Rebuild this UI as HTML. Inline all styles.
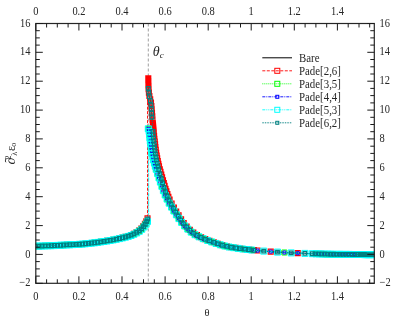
<!DOCTYPE html>
<html><head><meta charset="utf-8"><title>plot</title>
<style>html,body{margin:0;padding:0;background:#fff;overflow:hidden}body{width:415px;height:327px;position:relative;font-family:"Liberation Serif",serif}svg text,svg tspan{font-family:"Liberation Serif",serif}</style></head>
<body>
<svg width="415" height="327" viewBox="0 0 415 327" style="position:absolute;left:0;top:0;will-change:transform;opacity:0.999" font-size="12" fill="#262626">
<rect width="415" height="327" fill="#fff"/>
<line x1="148.3" y1="23.5" x2="148.3" y2="283.3" stroke="#888" stroke-width="0.8" stroke-dasharray="3,2"/>
<clipPath id="c"><rect x="35.8" y="23.454000000000008" width="339.1" height="259.848"/></clipPath>
<g clip-path="url(#c)" fill="none">
<path d="M35.8 246.1 L36.9 246.1 L38.1 246.1 L39.2 246.1 L40.3 246.0 L41.4 246.0 L42.6 246.0 L43.7 245.9 L44.8 245.9 L46.0 245.9 L47.1 245.8 L48.2 245.8 L49.3 245.7 L50.5 245.7 L51.6 245.7 L52.7 245.6 L53.8 245.6 L55.0 245.5 L56.1 245.4 L57.2 245.4 L58.4 245.3 L59.5 245.3 L60.6 245.2 L61.7 245.1 L62.9 245.1 L64.0 245.0 L65.1 245.0 L66.3 244.9 L67.4 244.9 L68.5 244.8 L69.6 244.8 L70.8 244.7 L71.9 244.6 L73.0 244.6 L74.1 244.5 L75.3 244.5 L76.4 244.4 L77.5 244.3 L78.7 244.2 L79.8 244.2 L80.9 244.1 L82.0 244.0 L83.2 243.9 L84.3 243.8 L85.4 243.7 L86.6 243.6 L87.7 243.5 L88.8 243.4 L89.9 243.2 L91.1 243.1 L92.2 243.0 L93.3 242.8 L94.5 242.7 L95.6 242.5 L96.7 242.4 L97.8 242.2 L99.0 242.1 L100.1 241.9 L101.2 241.8 L102.3 241.6 L103.5 241.4 L104.6 241.3 L105.7 241.1 L106.9 240.9 L108.0 240.7 L109.1 240.5 L110.2 240.3 L111.4 240.1 L112.2 240.0 L113.1 239.8 L113.9 239.6 L114.8 239.5 L115.6 239.3 L116.4 239.1 L117.3 239.0 L118.1 238.8 L119.0 238.6 L119.8 238.4 L120.7 238.2 L121.5 238.0 L122.4 237.8 L123.2 237.6 L124.1 237.4 L124.9 237.1 L125.7 236.9 L126.6 236.7 L127.4 236.4 L128.3 236.1 L129.1 235.8 L130.0 235.6 L130.8 235.2 L131.7 234.9 L132.5 234.6 L133.4 234.2 L134.2 233.8 L135.1 233.3 L135.9 232.9 L136.7 232.4 L137.6 231.9 L138.4 231.3 L139.3 230.7 L140.1 230.0 L140.7 229.6 L141.3 229.0 L141.8 228.5 L142.4 227.9 L143.0 227.3 L143.5 226.6 L144.1 225.8 L144.6 225.0 L145.2 224.2 L145.8 223.2 L146.3 222.2 L146.9 220.9 L147.5 219.5 L147.7 218.8 L148.0 218.0 L148.3 217.2 M148.3 78.3 L148.3 79.3 L148.3 80.4 L148.4 81.5 L148.4 82.6 L148.4 83.7 L148.4 84.8 L148.4 85.9 L148.5 86.9 L148.5 87.9 L148.6 88.8 L148.6 89.8 L148.7 90.7 L148.8 91.7 L148.9 92.6 L149.0 93.5 L149.1 94.4 L149.2 95.3 L149.3 96.2 L149.5 97.0 L149.7 97.8 L149.9 98.6 L150.1 99.4 L150.3 100.2 L150.5 101.1 L150.6 101.9 L150.8 102.8 L150.9 103.7 L151.0 104.6 L151.1 105.6 L151.2 106.5 L151.2 107.5 L151.3 108.4 L151.4 109.4 L151.5 110.4 L151.5 111.3 L151.6 112.3 L151.7 113.3 L151.7 114.2 L151.8 115.2 L151.8 116.1 L151.9 117.1 L152.0 118.0 L152.0 119.0 L152.1 119.9 L152.2 120.9 L152.2 121.8 L152.3 122.8 L152.4 123.8 L152.4 124.7 L152.5 125.6 L152.6 126.6 L152.7 127.5 L152.8 128.4 L152.9 129.4 L152.9 130.3 L153.0 131.3 L153.1 132.2 L153.2 133.1 L153.3 134.1 L153.4 135.0 L153.4 135.9 L153.5 136.9 L153.6 137.8 L153.7 138.7 L153.8 139.7 L153.9 140.6 L154.0 141.5 L154.1 142.5 L154.2 143.4 L154.3 144.3 L154.4 145.2 L154.5 146.2 L154.6 147.1 L154.7 148.0 L154.8 148.9 L154.9 149.8 L155.0 150.7 L155.1 151.6 L155.2 152.5 L155.4 153.3 L155.5 154.2 L155.6 155.1 L155.8 156.0 L155.9 156.8 L156.1 157.7 L156.3 158.5 L156.4 159.4 L156.6 160.2 L156.8 161.1 L156.9 161.9 L157.1 162.7 L157.3 163.6 L157.5 164.4 L157.7 165.2 L157.9 166.0 L158.1 166.8 L158.3 167.6 L158.5 168.4 L158.7 169.2 L158.9 170.0 L159.1 170.8 L159.4 171.6 L159.6 172.3 L159.8 173.1 L160.0 173.9 L160.3 174.7 L160.5 175.4 L160.7 176.2 L160.9 177.0 L161.2 177.8 L161.4 178.6 L161.6 179.5 L161.9 180.3 L162.1 181.1 L162.4 182.0 L162.6 182.8 L162.9 183.6 L163.1 184.4 L163.4 185.2 L163.6 186.0 L163.9 186.8 L164.1 187.5 L164.3 188.3 L164.7 189.3 L165.0 190.3 L165.3 191.2 L165.7 192.1 L166.0 193.0 L166.3 193.9 L166.6 194.8 L167.0 195.6 L167.3 196.4 L167.6 197.2 L168.0 197.9 L168.3 198.6 L168.6 199.3 L168.9 200.0 L169.3 200.7 L169.7 201.5 L170.1 202.4 L170.5 203.1 L170.9 203.9 L171.3 204.7 L171.7 205.4 L172.1 206.1 L172.5 206.8 L173.0 207.5 L173.4 208.2 L173.8 208.9 L174.2 209.6 L174.6 210.3 L175.0 210.9 L175.4 211.6 L175.8 212.2 L176.2 212.9 L176.6 213.6 L177.1 214.2 L177.5 214.9 L177.9 215.5 L178.3 216.1 L178.7 216.8 L179.1 217.4 L179.5 218.0 L179.9 218.7 L180.3 219.3 L180.7 219.9 L181.1 220.5 L181.6 221.2 L182.1 221.8 L182.6 222.5 L183.1 223.1 L183.6 223.8 L184.1 224.4 L184.6 225.0 L185.1 225.5 L185.6 226.1 L186.1 226.6 L186.6 227.1 L187.1 227.7 L187.7 228.3 L188.3 228.8 L188.9 229.4 L189.4 229.9 L190.0 230.4 L190.6 230.9 L191.1 231.4 L191.7 231.9 L192.3 232.3 L192.9 232.8 L193.5 233.3 L194.2 233.7 L194.8 234.1 L195.5 234.5 L196.1 234.9 L196.8 235.3 L197.5 235.7 L198.1 236.0 L198.9 236.4 L199.6 236.8 L200.3 237.1 L201.1 237.5 L201.8 237.8 L202.5 238.1 L203.3 238.5 L204.0 238.8 L204.8 239.1 L205.5 239.4 L206.2 239.7 L207.0 240.0 L207.7 240.2 L208.4 240.5 L209.2 240.8 L209.9 241.0 L210.7 241.3 L211.5 241.6 L212.3 241.9 L213.1 242.2 L213.9 242.5 L214.7 242.7 L215.6 243.0 L216.4 243.3 L217.2 243.6 L218.0 243.9 L218.8 244.1 L219.7 244.4 L220.5 244.6 L221.3 244.9 L222.1 245.1 L222.9 245.4 L223.8 245.6 L224.6 245.8 L225.4 246.0 L226.2 246.2 L227.0 246.4 L227.9 246.6 L228.8 246.8 L229.7 247.0 L230.6 247.1 L231.6 247.3 L232.5 247.4 L233.4 247.6 L234.3 247.7 L235.2 247.9 L236.1 248.0 L237.0 248.1 L237.9 248.3 L238.8 248.4 L239.7 248.5 L240.6 248.6 L241.5 248.7 L242.4 248.8 L243.3 249.0 L244.2 249.1 L245.1 249.2 L246.0 249.3 L246.9 249.4 L247.8 249.5 L248.7 249.6 L249.6 249.7 L250.5 249.8 L251.4 249.9 L252.3 250.0 L253.3 250.1 L254.3 250.2 L255.2 250.3 L256.2 250.4 L257.2 250.5 L258.2 250.6 L259.2 250.7 L260.2 250.8 L261.1 250.9 L262.1 250.9 L263.1 251.0 L264.1 251.1 L265.1 251.2 L266.1 251.2 L267.0 251.3 L268.0 251.4 L269.0 251.5 L270.0 251.5 L271.0 251.6 L272.0 251.7 L272.9 251.8 L273.9 251.8 L274.9 251.9 L275.9 252.0 L276.9 252.0 L277.9 252.1 L278.8 252.2 L279.8 252.2 L280.8 252.3 L281.8 252.3 L282.8 252.4 L283.8 252.5 L284.7 252.5 L285.7 252.6 L286.7 252.6 L287.7 252.7 L288.7 252.7 L289.7 252.8 L290.6 252.8 L291.6 252.9 L292.6 252.9 L293.6 253.0 L294.6 253.0 L295.6 253.0 L296.5 253.1 L297.5 253.1 L298.5 253.2 L299.5 253.2 L300.5 253.2 L301.5 253.3 L302.4 253.3 L303.4 253.4 L304.4 253.4 L305.4 253.4 L306.4 253.5 L307.4 253.5 L308.3 253.5 L309.3 253.6 L310.3 253.6 L311.3 253.6 L312.3 253.7 L313.3 253.7 L314.2 253.7 L315.2 253.8 L316.2 253.8 L317.2 253.8 L318.2 253.9 L319.2 253.9 L320.1 253.9 L321.1 254.0 L322.1 254.0 L323.1 254.0 L324.1 254.0 L325.1 254.1 L326.0 254.1 L327.0 254.1 L328.0 254.1 L329.0 254.1 L330.0 254.2 L331.0 254.2 L331.9 254.2 L332.9 254.2 L334.0 254.2 L335.1 254.3 L336.1 254.3 L337.2 254.3 L338.3 254.3 L339.3 254.3 L340.4 254.3 L341.4 254.3 L342.5 254.3 L343.6 254.4 L344.6 254.4 L345.7 254.4 L346.8 254.4 L347.8 254.4 L348.9 254.4 L350.0 254.4 L351.0 254.4 L352.1 254.5 L353.2 254.5 L354.2 254.5 L355.3 254.5 L356.4 254.5 L357.4 254.5 L358.5 254.5 L359.6 254.5 L360.6 254.5 L361.7 254.5 L362.8 254.5 L363.8 254.5 L364.9 254.5 L366.0 254.6 L367.0 254.6 L368.1 254.6 L369.1 254.6 L370.2 254.6 L371.3 254.6 L372.3 254.6 L373.4 254.6 L374.2 254.6" stroke="#000" stroke-width="1"/>
<path d="M35.8 246.1 L36.9 246.1 L38.1 246.1 L39.2 246.0 L40.3 246.0 L41.4 246.0 L42.6 246.0 L43.7 245.9 L44.8 245.9 L46.0 245.8 L47.1 245.8 L48.2 245.8 L49.3 245.7 L50.5 245.7 L51.6 245.6 L52.7 245.6 L53.8 245.5 L55.0 245.5 L56.1 245.4 L57.2 245.4 L58.4 245.3 L59.5 245.2 L60.6 245.2 L61.7 245.1 L62.9 245.1 L64.0 245.0 L65.1 245.0 L66.3 244.9 L67.4 244.8 L68.5 244.8 L69.6 244.7 L70.8 244.7 L71.9 244.6 L73.0 244.6 L74.1 244.5 L75.3 244.4 L76.4 244.4 L77.5 244.3 L78.7 244.2 L79.8 244.1 L80.9 244.1 L82.0 244.0 L83.2 243.9 L84.3 243.8 L85.4 243.7 L86.6 243.6 L87.7 243.4 L88.8 243.3 L89.9 243.2 L91.1 243.1 L92.2 242.9 L93.3 242.8 L94.5 242.6 L95.6 242.5 L96.7 242.3 L97.8 242.2 L99.0 242.0 L100.1 241.9 L101.2 241.7 L102.3 241.5 L103.5 241.4 L104.6 241.2 L105.7 241.0 L106.9 240.8 L108.0 240.6 L109.1 240.5 L110.2 240.3 L111.4 240.0 L112.2 239.9 L113.1 239.7 L113.9 239.6 L114.8 239.4 L115.6 239.2 L116.4 239.0 L117.3 238.9 L118.1 238.7 L119.0 238.5 L119.8 238.3 L120.7 238.1 L121.5 237.9 L122.4 237.7 L123.2 237.5 L124.1 237.2 L124.9 237.0 L125.7 236.8 L126.6 236.5 L127.4 236.3 L128.3 236.0 L129.1 235.7 L130.0 235.4 L130.8 235.1 L131.7 234.7 L132.5 234.4 L133.4 234.0 L134.2 233.6 L135.1 233.1 L135.9 232.6 L136.7 232.1 L137.6 231.6 L138.4 231.0 L139.3 230.3 L139.8 229.9 L140.4 229.4 L141.0 228.9 L141.5 228.3 L142.1 227.7 L142.7 227.1 L143.2 226.4 L143.8 225.6 L144.4 224.8 L144.9 223.9 L145.5 223.0 L146.1 221.9 L146.6 220.6 L147.2 219.1 L147.5 218.4 L147.7 217.6 L148.0 216.7 L147.5 215.8 L147.5 78.3 L148.3 79.5 L148.4 80.5 L148.4 81.6 L148.4 82.6 L148.4 83.7 L148.4 84.7 L148.5 85.8 L148.5 86.9 L148.5 87.9 L148.6 88.9 L148.6 89.8 L148.7 90.8 L148.8 91.7 L148.9 92.6 L149.0 93.5 L149.1 94.4 L149.3 95.3 L149.4 96.1 L149.6 97.0 L149.8 97.8 L150.0 98.5 L150.3 99.3 L150.5 100.1 L150.7 100.9 L150.9 101.8 L151.0 102.6 L151.1 103.5 L151.3 104.4 L151.4 105.3 L151.5 106.2 L151.6 107.1 L151.6 108.1 L151.7 109.0 L151.8 109.9 L151.9 110.9 L151.9 111.8 L152.0 112.8 L152.1 113.7 L152.2 114.7 L152.2 115.6 L152.3 116.5 L152.4 117.5 L152.5 118.4 L152.5 119.4 L152.6 120.3 L152.7 121.3 L152.8 122.2 L152.8 123.2 L152.9 124.1 L153.0 125.0 L153.1 125.9 L153.2 126.9 L153.3 127.8 L153.4 128.7 L153.5 129.6 L153.6 130.5 L153.7 131.5 L153.8 132.4 L153.9 133.3 L154.0 134.2 L154.1 135.1 L154.2 136.1 L154.3 137.0 L154.3 137.9 L154.4 138.8 L154.6 139.7 L154.7 140.6 L154.8 141.5 L154.9 142.5 L155.0 143.4 L155.1 144.3 L155.2 145.2 L155.3 146.1 L155.4 147.0 L155.5 147.9 L155.6 148.8 L155.7 149.7 L155.9 150.6 L156.0 151.4 L156.1 152.3 L156.3 153.2 L156.4 154.1 L156.6 154.9 L156.7 155.8 L156.9 156.6 L157.0 157.5 L157.2 158.3 L157.4 159.1 L157.5 160.0 L157.7 160.8 L157.9 161.6 L158.1 162.5 L158.3 163.3 L158.5 164.1 L158.7 164.9 L158.9 165.7 L159.1 166.5 L159.3 167.3 L159.5 168.1 L159.7 168.9 L159.9 169.7 L160.1 170.5 L160.4 171.3 L160.6 172.1 L160.8 172.8 L161.0 173.6 L161.3 174.6 L161.6 175.4 L161.8 176.3 L162.1 177.1 L162.3 178.0 L162.5 178.9 L162.8 179.7 L163.0 180.6 L163.3 181.4 L163.5 182.3 L163.8 183.1 L164.0 183.9 L164.3 184.7 L164.5 185.6 L164.8 186.4 L165.0 187.1 L165.3 187.9 L165.5 188.7 L165.7 189.4 L166.1 190.4 L166.4 191.4 L166.7 192.3 L167.1 193.2 L167.4 194.1 L167.7 195.0 L168.0 195.8 L168.4 196.6 L168.7 197.4 L169.0 198.2 L169.3 198.9 L169.7 199.6 L170.0 200.3 L170.3 201.0 L170.7 201.7 L171.1 202.5 L171.5 203.3 L171.9 204.1 L172.3 204.9 L172.7 205.6 L173.1 206.3 L173.5 207.1 L173.9 207.8 L174.3 208.5 L174.8 209.2 L175.2 209.8 L175.6 210.5 L176.0 211.2 L176.4 211.9 L176.8 212.5 L177.2 213.2 L177.6 213.9 L178.0 214.5 L178.4 215.2 L178.9 215.8 L179.3 216.5 L179.7 217.1 L180.1 217.8 L180.5 218.4 L180.9 219.0 L181.3 219.6 L181.7 220.2 L182.1 220.8 L182.6 221.5 L183.1 222.2 L183.6 222.9 L184.1 223.5 L184.6 224.1 L185.1 224.7 L185.6 225.3 L186.1 225.9 L186.6 226.4 L187.0 226.9 L187.5 227.4 L188.1 228.0 L188.7 228.6 L189.3 229.1 L189.8 229.7 L190.4 230.2 L191.0 230.7 L191.6 231.2 L192.1 231.7 L192.7 232.2 L193.3 232.6 L193.9 233.1 L194.5 233.5 L195.2 234.0 L195.8 234.4 L196.5 234.8 L197.1 235.2 L197.8 235.5 L198.4 235.9 L199.1 236.2 L199.8 236.6 L200.6 237.0 L201.3 237.3 L202.0 237.7 L202.8 238.0 L203.5 238.3 L204.3 238.7 L205.0 239.0 L205.7 239.3 L206.5 239.6 L207.2 239.8 L207.9 240.1 L208.7 240.4 L209.4 240.7 L210.2 240.9 L210.9 241.2 L211.6 241.5 L212.5 241.8 L213.3 242.1 L214.1 242.3 L214.9 242.6 L215.7 242.9 L216.6 243.2 L217.4 243.5 L218.2 243.7 L219.0 244.0 L219.8 244.3 L220.7 244.5 L221.5 244.8 L222.3 245.0 L223.1 245.3 L223.9 245.5 L224.7 245.7 L225.6 245.9 L226.4 246.1 L227.2 246.3 L228.0 246.5 L228.9 246.7 L229.8 246.9 L230.7 247.1 L231.6 247.2 L232.5 247.4 L233.4 247.5 L234.3 247.7 L235.2 247.8 L236.1 247.9 L237.0 248.1 L237.9 248.2 L238.8 248.3 L239.7 248.4 L240.6 248.6 L241.5 248.7 L242.4 248.8 L243.4 248.9 L244.3 249.0 L245.2 249.1 L246.1 249.2 L247.0 249.4 L247.9 249.5 L248.8 249.6 L249.7 249.7 L250.6 249.8 L251.5 249.9 L252.4 250.0 L253.3 250.1 L254.3 250.2 L255.3 250.3 L256.3 250.4 L257.3 250.5 L258.3 250.6 L259.2 250.7 L260.2 250.7 L261.2 250.8 L262.2 250.9 L263.2 251.0 L264.2 251.1 L265.2 251.1 L266.1 251.2 L267.1 251.3 L268.1 251.4 L269.1 251.4 L270.1 251.5 L271.1 251.6 L272.0 251.7 L273.0 251.7 L274.0 251.8 L275.0 251.9 L276.0 251.9 L277.0 252.0 L277.9 252.1 L278.9 252.1 L279.9 252.2 L280.9 252.3 L281.9 252.3 L282.9 252.4 L283.8 252.4 L284.8 252.5 L285.8 252.5 L286.8 252.6 L287.8 252.7 L288.8 252.7 L289.7 252.8 L290.7 252.8 L291.7 252.9 L292.7 252.9 L293.7 252.9 L294.7 253.0 L295.6 253.0 L296.6 253.1 L297.6 253.1 L298.6 253.1 L299.6 253.2 L300.6 253.2 L301.5 253.3 L302.5 253.3 L303.5 253.3 L304.5 253.4 L305.5 253.4 L306.5 253.5 L307.4 253.5 L308.4 253.5 L309.4 253.6 L310.4 253.6 L311.4 253.6 L312.4 253.7 L313.3 253.7 L314.3 253.7 L315.3 253.8 L316.3 253.8 L317.3 253.8 L318.3 253.9 L319.2 253.9 L320.2 253.9 L321.2 253.9 L322.2 254.0 L323.2 254.0 L324.2 254.0 L325.1 254.0 L326.1 254.1 L327.1 254.1 L328.1 254.1 L329.1 254.1 L330.1 254.2 L331.0 254.2 L332.0 254.2 L333.0 254.2 L334.0 254.2 L335.1 254.2 L336.1 254.3 L337.2 254.3 L338.3 254.3 L339.3 254.3 L340.4 254.3 L341.4 254.3 L342.5 254.3 L343.6 254.4 L344.6 254.4 L345.7 254.4 L346.8 254.4 L347.8 254.4 L348.9 254.4 L350.0 254.4 L351.0 254.4 L352.1 254.4 L353.2 254.5 L354.2 254.5 L355.3 254.5 L356.4 254.5 L357.4 254.5 L358.5 254.5 L359.6 254.5 L360.6 254.5 L361.7 254.5 L362.8 254.5 L363.8 254.5 L364.9 254.5 L366.0 254.6 L367.0 254.6 L368.1 254.6 L369.1 254.6 L370.2 254.6 L371.3 254.6 L372.3 254.6 L373.4 254.6 L374.2 254.6" stroke="#ff0000" stroke-width="0.9" stroke-dasharray="3,1.5"/>
<path d="M33.3 243.6h5v5h-5zM36.4 243.6h5v5h-5zM39.5 243.5h5v5h-5zM42.6 243.4h5v5h-5zM45.7 243.3h5v5h-5zM48.8 243.1h5v5h-5zM51.9 243.0h5v5h-5zM55.0 242.8h5v5h-5zM58.1 242.7h5v5h-5zM61.2 242.5h5v5h-5zM64.3 242.4h5v5h-5zM67.4 242.2h5v5h-5zM70.5 242.1h5v5h-5zM73.6 241.9h5v5h-5zM76.7 241.7h5v5h-5zM79.8 241.5h5v5h-5zM82.9 241.2h5v5h-5zM86.0 240.9h5v5h-5zM89.1 240.5h5v5h-5zM92.2 240.1h5v5h-5zM95.3 239.7h5v5h-5zM98.4 239.2h5v5h-5zM101.5 238.8h5v5h-5zM104.6 238.3h5v5h-5zM107.7 237.8h5v5h-5zM110.8 237.2h5v5h-5zM113.9 236.5h5v5h-5zM117.0 235.9h5v5h-5zM120.1 235.1h5v5h-5zM123.0 234.4h5v5h-5zM125.8 233.5h5v5h-5zM128.6 232.5h5v5h-5zM131.4 231.2h5v5h-5zM134.0 229.8h5v5h-5zM136.5 228.1h5v5h-5zM138.8 226.1h5v5h-5zM140.7 223.9h5v5h-5zM142.4 221.4h5v5h-5zM143.8 218.7h5v5h-5zM145.0 215.9h5v5h-5zM145.8 75.8h5v5h-5zM145.8 76.5h5v5h-5zM145.8 77.1h5v5h-5zM145.8 77.8h5v5h-5zM145.9 78.5h5v5h-5zM145.9 79.2h5v5h-5zM145.9 79.9h5v5h-5zM145.9 80.7h5v5h-5zM145.9 81.3h5v5h-5zM145.9 82.0h5v5h-5zM145.9 82.7h5v5h-5zM146.0 83.3h5v5h-5zM146.1 86.7h5v5h-5zM146.4 90.1h5v5h-5zM146.9 93.5h5v5h-5zM147.7 96.8h5v5h-5zM148.5 100.1h5v5h-5zM148.9 103.5h5v5h-5zM149.2 106.9h5v5h-5zM149.5 110.3h5v5h-5zM149.8 113.7h5v5h-5zM150.0 117.1h5v5h-5zM150.3 120.5h5v5h-5zM150.4 121.5h5v5h-5zM150.5 122.5h5v5h-5zM150.6 123.5h5v5h-5zM150.7 124.6h5v5h-5zM150.8 125.6h5v5h-5zM150.9 126.6h5v5h-5zM151.0 127.6h5v5h-5zM151.1 128.6h5v5h-5zM151.2 129.6h5v5h-5zM151.3 130.6h5v5h-5zM151.6 133.4h5v5h-5zM151.9 136.2h5v5h-5zM152.3 139.0h5v5h-5zM152.6 141.8h5v5h-5zM152.9 144.6h5v5h-5zM153.3 147.4h5v5h-5zM153.7 150.2h5v5h-5zM154.2 153.0h5v5h-5zM154.7 155.7h5v5h-5zM155.3 158.5h5v5h-5zM155.9 161.2h5v5h-5zM156.5 163.9h5v5h-5zM157.3 166.7h5v5h-5zM158.0 169.3h5v5h-5zM158.8 172.1h5v5h-5zM159.6 174.9h5v5h-5zM160.5 177.8h5v5h-5zM161.3 180.6h5v5h-5zM162.1 183.3h5v5h-5zM163.0 186.2h5v5h-5zM163.9 188.9h5v5h-5zM164.9 191.6h5v5h-5zM165.9 194.3h5v5h-5zM167.1 197.0h5v5h-5zM169.1 201.1h5v5h-5zM171.4 205.1h5v5h-5zM173.7 209.1h5v5h-5zM176.1 212.9h5v5h-5zM178.6 216.8h5v5h-5zM181.2 220.5h5v5h-5zM184.1 224.0h5v5h-5zM187.3 227.2h5v5h-5zM190.8 230.1h5v5h-5zM194.5 232.6h5v5h-5zM198.6 234.7h5v5h-5zM202.7 236.6h5v5h-5zM207.0 238.2h5v5h-5zM211.3 239.7h5v5h-5zM215.5 241.2h5v5h-5zM219.9 242.6h5v5h-5zM224.3 243.7h5v5h-5zM228.7 244.7h5v5h-5zM233.2 245.4h5v5h-5zM237.7 246.0h5v5h-5zM242.2 246.6h5v5h-5zM246.8 247.1h5v5h-5zM251.3 247.6h5v5h-5zM315.5 251.3h5v5h-5zM318.5 251.4h5v5h-5zM321.6 251.5h5v5h-5zM324.6 251.6h5v5h-5zM327.6 251.7h5v5h-5zM330.7 251.7h5v5h-5zM333.7 251.8h5v5h-5zM336.7 251.8h5v5h-5zM339.8 251.8h5v5h-5zM342.8 251.9h5v5h-5zM345.8 251.9h5v5h-5zM348.9 251.9h5v5h-5zM351.9 252.0h5v5h-5zM354.9 252.0h5v5h-5zM357.6 252.0h5v5h-5zM358.6 252.0h5v5h-5zM359.7 252.0h5v5h-5zM360.7 252.0h5v5h-5zM361.8 252.0h5v5h-5zM362.9 252.0h5v5h-5zM363.9 252.1h5v5h-5zM365.0 252.1h5v5h-5zM366.1 252.1h5v5h-5zM367.1 252.1h5v5h-5zM368.2 252.1h5v5h-5zM369.3 252.1h5v5h-5zM370.3 252.1h5v5h-5zM371.4 252.1h5v5h-5zM255.0 248.0h5v5h-5zM268.2 249.1h5v5h-5zM295.2 250.6h5v5h-5z" stroke="#ff0000" stroke-width="1.1"/>
<path d="M35.8 246.1 L36.9 246.1 L38.1 246.1 L39.2 246.1 L40.3 246.0 L41.4 246.0 L42.6 246.0 L43.7 245.9 L44.8 245.9 L46.0 245.9 L47.1 245.8 L48.2 245.8 L49.3 245.8 L50.5 245.7 L51.6 245.7 L52.7 245.6 L53.8 245.6 L55.0 245.5 L56.1 245.4 L57.2 245.4 L58.4 245.3 L59.5 245.3 L60.6 245.2 L61.7 245.2 L62.9 245.1 L64.0 245.0 L65.1 245.0 L66.3 244.9 L67.4 244.9 L68.5 244.8 L69.6 244.8 L70.8 244.7 L71.9 244.6 L73.0 244.6 L74.1 244.5 L75.3 244.5 L76.4 244.4 L77.5 244.3 L78.7 244.3 L79.8 244.2 L80.9 244.1 L82.0 244.0 L83.2 243.9 L84.3 243.8 L85.4 243.7 L86.6 243.6 L87.7 243.5 L88.8 243.4 L89.9 243.3 L91.1 243.1 L92.2 243.0 L93.3 242.9 L94.5 242.7 L95.6 242.6 L96.7 242.4 L97.8 242.3 L99.0 242.1 L100.1 241.9 L101.2 241.8 L102.3 241.6 L103.5 241.5 L104.6 241.3 L105.7 241.1 L106.9 240.9 L108.0 240.8 L109.1 240.6 L110.2 240.4 L111.4 240.2 L112.2 240.0 L113.1 239.8 L113.9 239.7 L114.8 239.5 L115.6 239.3 L116.4 239.2 L117.3 239.0 L118.1 238.8 L119.0 238.6 L119.8 238.4 L120.7 238.2 L121.5 238.0 L122.4 237.8 L123.2 237.6 L124.1 237.4 L124.9 237.2 L125.7 237.0 L126.6 236.7 L127.4 236.5 L128.3 236.2 L129.1 235.9 L130.0 235.6 L130.8 235.3 L131.7 235.0 L132.5 234.6 L133.4 234.3 L134.2 233.9 L135.1 233.5 L135.9 233.0 L136.7 232.5 L137.6 232.0 L138.4 231.4 L139.3 230.8 L140.1 230.2 L140.7 229.7 L141.3 229.2 L141.8 228.7 L142.4 228.1 L143.0 227.5 L143.5 226.8 L144.1 226.1 L144.6 225.3 L145.2 224.5 L145.8 223.6 L146.3 222.6 L146.9 221.4 L147.5 220.1 L147.7 219.3 L148.0 218.6 L148.3 217.8 M148.3 128.8 L148.9 129.3 L149.0 130.2 L149.1 131.1 L149.2 132.0 L149.3 132.9 L149.4 133.8 L149.6 134.7 L149.7 135.6 L149.8 136.5 L149.9 137.4 L150.0 138.3 L150.1 139.2 L150.2 140.1 L150.3 141.0 L150.4 141.9 L150.6 142.8 L150.7 143.7 L150.8 144.6 L150.9 145.5 L151.0 146.4 L151.2 147.3 L151.3 148.2 L151.4 149.0 L151.6 149.9 L151.7 150.8 L151.9 151.7 L152.0 152.5 L152.2 153.4 L152.3 154.2 L152.5 155.1 L152.7 155.9 L152.8 156.7 L153.0 157.6 L153.2 158.4 L153.4 159.2 L153.6 160.0 L153.8 160.8 L154.0 161.6 L154.2 162.4 L154.4 163.2 L154.6 164.0 L154.9 164.8 L155.1 165.6 L155.3 166.4 L155.5 167.1 L155.8 167.9 L156.0 168.7 L156.3 169.4 L156.5 170.2 L156.8 171.0 L157.0 171.7 L157.3 172.5 L157.5 173.2 L157.8 174.0 L158.0 174.7 L158.3 175.5 L158.5 176.2 L158.8 177.0 L159.0 177.8 L159.2 178.5 L159.5 179.3 L159.7 180.0 L160.0 180.8 L160.2 181.6 L160.5 182.3 L160.7 183.1 L161.0 183.8 L161.3 184.7 L161.6 185.7 L162.0 186.6 L162.3 187.6 L162.6 188.5 L163.0 189.4 L163.3 190.3 L163.6 191.1 L163.9 192.0 L164.3 192.8 L164.6 193.7 L164.9 194.4 L165.3 195.2 L165.6 196.0 L165.9 196.7 L166.2 197.4 L166.6 198.1 L166.9 198.8 L167.3 199.6 L167.7 200.4 L168.1 201.2 L168.5 202.0 L168.9 202.7 L169.3 203.5 L169.8 204.2 L170.2 204.9 L170.6 205.6 L171.0 206.3 L171.4 207.0 L171.8 207.6 L172.2 208.3 L172.6 209.0 L173.0 209.6 L173.4 210.3 L173.9 210.9 L174.3 211.5 L174.7 212.2 L175.1 212.8 L175.5 213.4 L175.9 214.1 L176.3 214.7 L176.7 215.3 L177.1 215.9 L177.5 216.6 L178.0 217.2 L178.4 217.8 L178.8 218.4 L179.2 219.0 L179.7 219.7 L180.2 220.4 L180.7 221.1 L181.1 221.7 L181.6 222.4 L182.1 223.0 L182.6 223.6 L183.1 224.2 L183.6 224.8 L184.1 225.4 L184.6 225.9 L185.1 226.4 L185.7 227.0 L186.2 227.6 L186.8 228.2 L187.4 228.7 L188.0 229.3 L188.5 229.8 L189.1 230.3 L189.7 230.8 L190.2 231.3 L190.8 231.8 L191.4 232.2 L192.0 232.7 L192.6 233.1 L193.3 233.6 L193.9 234.0 L194.6 234.5 L195.2 234.8 L195.9 235.2 L196.6 235.6 L197.2 235.9 L197.9 236.3 L198.7 236.7 L199.4 237.0 L200.2 237.4 L200.9 237.7 L201.6 238.1 L202.4 238.4 L203.1 238.7 L203.9 239.0 L204.6 239.3 L205.3 239.6 L206.1 239.9 L206.8 240.1 L207.5 240.4 L208.3 240.7 L209.0 241.0 L209.8 241.2 L210.6 241.5 L211.4 241.8 L212.2 242.1 L213.0 242.4 L213.8 242.7 L214.7 242.9 L215.5 243.2 L216.3 243.5 L217.1 243.8 L217.9 244.0 L218.8 244.3 L219.6 244.6 L220.4 244.8 L221.2 245.1 L222.0 245.3 L222.9 245.5 L223.7 245.7 L224.5 246.0 L225.3 246.2 L226.1 246.4 L227.0 246.5 L227.9 246.7 L228.8 246.9 L229.7 247.1 L230.6 247.2 L231.5 247.4 L232.4 247.5 L233.3 247.7 L234.2 247.8 L235.1 248.0 L236.0 248.1 L236.9 248.2 L237.8 248.3 L238.7 248.5 L239.6 248.6 L240.5 248.7 L241.4 248.8 L242.3 248.9 L243.2 249.0 L244.1 249.1 L245.0 249.2 L245.9 249.4 L246.8 249.5 L247.7 249.6 L248.6 249.7 L249.5 249.8 L250.4 249.9 L251.3 250.0 L252.3 250.1 L253.3 250.2 L254.3 250.3 L255.2 250.4 L256.2 250.5 L257.2 250.6 L258.2 250.7 L259.2 250.7 L260.2 250.8 L261.1 250.9 L262.1 251.0 L263.1 251.1 L264.1 251.1 L265.1 251.2 L266.1 251.3 L267.0 251.4 L268.0 251.4 L269.0 251.5 L270.0 251.6 L271.0 251.7 L272.0 251.7 L272.9 251.8 L273.9 251.9 L274.9 251.9 L275.9 252.0 L276.9 252.1 L277.9 252.1 L278.8 252.2 L279.8 252.3 L280.8 252.3 L281.8 252.4 L282.8 252.4 L283.8 252.5 L284.7 252.6 L285.7 252.6 L286.7 252.7 L287.7 252.7 L288.7 252.8 L289.7 252.8 L290.6 252.9 L291.6 252.9 L292.6 252.9 L293.6 253.0 L294.6 253.0 L295.6 253.1 L296.5 253.1 L297.5 253.1 L298.5 253.2 L299.5 253.2 L300.5 253.3 L301.5 253.3 L302.4 253.3 L303.4 253.4 L304.4 253.4 L305.4 253.5 L306.4 253.5 L307.4 253.5 L308.3 253.6 L309.3 253.6 L310.3 253.6 L311.3 253.7 L312.3 253.7 L313.3 253.7 L314.2 253.8 L315.2 253.8 L316.2 253.8 L317.2 253.9 L318.2 253.9 L319.2 253.9 L320.1 253.9 L321.1 254.0 L322.1 254.0 L323.1 254.0 L324.1 254.0 L325.1 254.1 L326.0 254.1 L327.0 254.1 L328.0 254.1 L329.0 254.2 L330.0 254.2 L331.0 254.2 L331.9 254.2 L332.9 254.2 L334.0 254.2 L335.1 254.3 L336.1 254.3 L337.2 254.3 L338.3 254.3 L339.3 254.3 L340.4 254.3 L341.4 254.3 L342.5 254.4 L343.6 254.4 L344.6 254.4 L345.7 254.4 L346.8 254.4 L347.8 254.4 L348.9 254.4 L350.0 254.4 L351.0 254.4 L352.1 254.5 L353.2 254.5 L354.2 254.5 L355.3 254.5 L356.4 254.5 L357.4 254.5 L358.5 254.5 L359.6 254.5 L360.6 254.5 L361.7 254.5 L362.8 254.5 L363.8 254.5 L364.9 254.6 L366.0 254.6 L367.0 254.6 L368.1 254.6 L369.1 254.6 L370.2 254.6 L371.3 254.6 L372.3 254.6 L373.4 254.6 L374.2 254.6" stroke="#00ff00" stroke-width="0.9" stroke-dasharray="1,1"/>
<path d="M33.3 243.6h5v5h-5zM36.4 243.6h5v5h-5zM39.5 243.5h5v5h-5zM42.6 243.4h5v5h-5zM45.7 243.3h5v5h-5zM48.8 243.2h5v5h-5zM51.9 243.0h5v5h-5zM55.0 242.9h5v5h-5zM58.1 242.7h5v5h-5zM61.2 242.6h5v5h-5zM64.3 242.4h5v5h-5zM67.4 242.2h5v5h-5zM70.5 242.1h5v5h-5zM73.6 241.9h5v5h-5zM76.7 241.7h5v5h-5zM79.8 241.5h5v5h-5zM82.9 241.2h5v5h-5zM86.0 240.9h5v5h-5zM89.1 240.6h5v5h-5zM92.2 240.2h5v5h-5zM95.3 239.8h5v5h-5zM98.4 239.3h5v5h-5zM101.5 238.9h5v5h-5zM104.6 238.4h5v5h-5zM107.7 237.9h5v5h-5zM110.8 237.3h5v5h-5zM113.9 236.7h5v5h-5zM117.0 236.0h5v5h-5zM120.1 235.3h5v5h-5zM123.0 234.5h5v5h-5zM125.8 233.7h5v5h-5zM128.6 232.7h5v5h-5zM131.4 231.5h5v5h-5zM134.2 230.0h5v5h-5zM136.8 228.3h5v5h-5zM139.0 226.5h5v5h-5zM141.0 224.3h5v5h-5zM143.0 221.6h5v5h-5zM144.4 218.9h5v5h-5zM145.8 126.3h5v5h-5zM146.7 129.0h5v5h-5zM147.1 132.2h5v5h-5zM147.4 135.4h5v5h-5zM147.8 138.6h5v5h-5zM148.3 141.8h5v5h-5zM148.7 144.9h5v5h-5zM149.2 148.1h5v5h-5zM149.7 151.3h5v5h-5zM150.4 154.4h5v5h-5zM151.1 157.5h5v5h-5zM151.9 160.6h5v5h-5zM152.8 163.7h5v5h-5zM153.7 166.8h5v5h-5zM155.1 171.1h5v5h-5zM156.5 175.4h5v5h-5zM157.9 179.6h5v5h-5zM159.4 183.9h5v5h-5zM160.9 188.2h5v5h-5zM162.7 192.5h5v5h-5zM164.6 196.6h5v5h-5zM166.7 200.7h5v5h-5zM169.0 204.6h5v5h-5zM171.4 208.5h5v5h-5zM173.9 212.3h5v5h-5zM176.4 216.1h5v5h-5zM179.1 219.9h5v5h-5zM182.1 223.4h5v5h-5zM185.3 226.6h5v5h-5zM188.7 229.6h5v5h-5zM192.5 232.2h5v5h-5zM196.5 234.3h5v5h-5zM200.7 236.2h5v5h-5zM205.0 237.9h5v5h-5zM209.2 239.4h5v5h-5zM213.5 240.9h5v5h-5zM217.8 242.3h5v5h-5zM222.2 243.5h5v5h-5zM226.6 244.5h5v5h-5zM231.1 245.2h5v5h-5zM235.6 245.9h5v5h-5zM240.1 246.5h5v5h-5zM244.6 247.0h5v5h-5zM249.1 247.5h5v5h-5zM313.5 251.3h5v5h-5zM316.6 251.4h5v5h-5zM319.6 251.5h5v5h-5zM322.6 251.6h5v5h-5zM325.7 251.6h5v5h-5zM328.7 251.7h5v5h-5zM331.7 251.8h5v5h-5zM334.8 251.8h5v5h-5zM337.8 251.8h5v5h-5zM340.8 251.9h5v5h-5zM343.9 251.9h5v5h-5zM346.9 251.9h5v5h-5zM349.9 252.0h5v5h-5zM353.0 252.0h5v5h-5zM356.0 252.0h5v5h-5zM357.6 252.0h5v5h-5zM358.6 252.0h5v5h-5zM359.7 252.0h5v5h-5zM360.7 252.0h5v5h-5zM361.8 252.1h5v5h-5zM362.9 252.1h5v5h-5zM363.9 252.1h5v5h-5zM365.0 252.1h5v5h-5zM366.1 252.1h5v5h-5zM367.1 252.1h5v5h-5zM368.2 252.1h5v5h-5zM369.3 252.1h5v5h-5zM370.3 252.1h5v5h-5zM371.4 252.1h5v5h-5zM281.9 250.0h5v5h-5z" stroke="#00ff00" stroke-width="1"/>
<path d="M35.8 246.1 L36.9 246.1 L38.1 246.1 L39.2 246.1 L40.3 246.0 L41.4 246.0 L42.6 246.0 L43.7 245.9 L44.8 245.9 L46.0 245.9 L47.1 245.8 L48.2 245.8 L49.3 245.8 L50.5 245.7 L51.6 245.7 L52.7 245.6 L53.8 245.6 L55.0 245.5 L56.1 245.5 L57.2 245.4 L58.4 245.3 L59.5 245.3 L60.6 245.2 L61.7 245.2 L62.9 245.1 L64.0 245.0 L65.1 245.0 L66.3 244.9 L67.4 244.9 L68.5 244.8 L69.6 244.8 L70.8 244.7 L71.9 244.7 L73.0 244.6 L74.1 244.5 L75.3 244.5 L76.4 244.4 L77.5 244.3 L78.7 244.3 L79.8 244.2 L80.9 244.1 L82.0 244.0 L83.2 244.0 L84.3 243.9 L85.4 243.8 L86.6 243.6 L87.7 243.5 L88.8 243.4 L89.9 243.3 L91.1 243.2 L92.2 243.0 L93.3 242.9 L94.5 242.7 L95.6 242.6 L96.7 242.4 L97.8 242.3 L99.0 242.1 L100.1 242.0 L101.2 241.8 L102.3 241.7 L103.5 241.5 L104.6 241.3 L105.7 241.1 L106.9 241.0 L108.0 240.8 L109.1 240.6 L110.2 240.4 L111.4 240.2 L112.2 240.0 L113.1 239.9 L113.9 239.7 L114.8 239.6 L115.6 239.4 L116.4 239.2 L117.3 239.0 L118.1 238.9 L119.0 238.7 L119.8 238.5 L120.7 238.3 L121.5 238.1 L122.4 237.9 L123.2 237.7 L124.1 237.5 L124.9 237.3 L125.7 237.0 L126.6 236.8 L127.4 236.5 L128.3 236.3 L129.1 236.0 L130.0 235.7 L130.8 235.4 L131.7 235.1 L132.5 234.7 L133.4 234.4 L134.2 234.0 L135.1 233.6 L135.9 233.1 L136.7 232.6 L137.6 232.1 L138.4 231.6 L139.3 231.0 L140.1 230.4 L140.7 229.9 L141.3 229.4 L141.8 228.9 L142.4 228.4 L143.0 227.8 L143.5 227.1 L144.1 226.4 L144.6 225.6 L145.2 224.8 L145.8 223.9 L146.3 223.0 L146.9 221.9 L147.5 220.6 L148.0 219.2 L148.3 218.4 M148.3 128.8 L148.9 129.3 L149.0 130.2 L149.1 131.1 L149.2 132.0 L149.3 132.9 L149.4 133.8 L149.6 134.7 L149.7 135.6 L149.8 136.5 L149.9 137.4 L150.0 138.3 L150.1 139.2 L150.2 140.1 L150.3 141.0 L150.4 141.9 L150.6 142.8 L150.7 143.7 L150.8 144.6 L150.9 145.5 L151.0 146.4 L151.2 147.3 L151.3 148.2 L151.4 149.0 L151.6 149.9 L151.7 150.8 L151.9 151.7 L152.0 152.5 L152.2 153.4 L152.3 154.2 L152.5 155.1 L152.7 155.9 L152.8 156.7 L153.0 157.6 L153.2 158.4 L153.4 159.2 L153.6 160.0 L153.8 160.8 L154.0 161.6 L154.2 162.4 L154.4 163.2 L154.6 164.0 L154.9 164.8 L155.1 165.6 L155.3 166.4 L155.5 167.1 L155.8 167.9 L156.0 168.7 L156.3 169.4 L156.5 170.2 L156.8 171.0 L157.0 171.7 L157.3 172.5 L157.5 173.2 L157.8 174.0 L158.0 174.7 L158.3 175.5 L158.5 176.2 L158.8 177.0 L159.0 177.8 L159.2 178.5 L159.5 179.3 L159.7 180.0 L160.0 180.8 L160.2 181.6 L160.5 182.3 L160.7 183.1 L161.0 183.8 L161.3 184.7 L161.6 185.7 L162.0 186.6 L162.3 187.6 L162.6 188.5 L163.0 189.4 L163.3 190.3 L163.6 191.1 L163.9 192.0 L164.3 192.8 L164.6 193.7 L164.9 194.4 L165.3 195.2 L165.6 196.0 L165.9 196.7 L166.2 197.4 L166.6 198.1 L166.9 198.8 L167.3 199.6 L167.7 200.4 L168.1 201.2 L168.5 202.0 L168.9 202.7 L169.3 203.5 L169.8 204.2 L170.2 204.9 L170.6 205.6 L171.0 206.3 L171.4 207.0 L171.8 207.6 L172.2 208.3 L172.6 209.0 L173.0 209.6 L173.4 210.3 L173.9 210.9 L174.3 211.5 L174.7 212.2 L175.1 212.8 L175.5 213.4 L175.9 214.1 L176.3 214.7 L176.7 215.3 L177.1 215.9 L177.5 216.6 L178.0 217.2 L178.4 217.8 L178.8 218.4 L179.2 219.0 L179.7 219.7 L180.2 220.4 L180.7 221.1 L181.1 221.7 L181.6 222.4 L182.1 223.0 L182.6 223.6 L183.1 224.2 L183.6 224.8 L184.1 225.4 L184.6 225.9 L185.1 226.4 L185.7 227.0 L186.2 227.6 L186.8 228.2 L187.4 228.7 L188.0 229.3 L188.5 229.8 L189.1 230.3 L189.7 230.8 L190.2 231.3 L190.8 231.8 L191.4 232.2 L192.0 232.7 L192.6 233.1 L193.3 233.6 L193.9 234.0 L194.6 234.5 L195.2 234.8 L195.9 235.2 L196.6 235.6 L197.2 235.9 L197.9 236.3 L198.7 236.7 L199.4 237.0 L200.2 237.4 L200.9 237.7 L201.6 238.1 L202.4 238.4 L203.1 238.7 L203.9 239.0 L204.6 239.3 L205.3 239.6 L206.1 239.9 L206.8 240.1 L207.5 240.4 L208.3 240.7 L209.0 241.0 L209.8 241.2 L210.6 241.5 L211.4 241.8 L212.2 242.1 L213.0 242.4 L213.8 242.7 L214.7 242.9 L215.5 243.2 L216.3 243.5 L217.1 243.8 L217.9 244.0 L218.8 244.3 L219.6 244.6 L220.4 244.8 L221.2 245.1 L222.0 245.3 L222.9 245.5 L223.7 245.7 L224.5 246.0 L225.3 246.2 L226.1 246.4 L227.0 246.5 L227.9 246.7 L228.8 246.9 L229.7 247.1 L230.6 247.2 L231.5 247.4 L232.4 247.5 L233.3 247.7 L234.2 247.8 L235.1 248.0 L236.0 248.1 L236.9 248.2 L237.8 248.3 L238.7 248.5 L239.6 248.6 L240.5 248.7 L241.4 248.8 L242.3 248.9 L243.2 249.0 L244.1 249.1 L245.0 249.2 L245.9 249.4 L246.8 249.5 L247.7 249.6 L248.6 249.7 L249.5 249.8 L250.4 249.9 L251.3 250.0 L252.3 250.1 L253.3 250.2 L254.3 250.3 L255.2 250.4 L256.2 250.5 L257.2 250.6 L258.2 250.7 L259.2 250.7 L260.2 250.8 L261.1 250.9 L262.1 251.0 L263.1 251.1 L264.1 251.1 L265.1 251.2 L266.1 251.3 L267.0 251.4 L268.0 251.4 L269.0 251.5 L270.0 251.6 L271.0 251.7 L272.0 251.7 L272.9 251.8 L273.9 251.9 L274.9 251.9 L275.9 252.0 L276.9 252.1 L277.9 252.1 L278.8 252.2 L279.8 252.3 L280.8 252.3 L281.8 252.4 L282.8 252.4 L283.8 252.5 L284.7 252.6 L285.7 252.6 L286.7 252.7 L287.7 252.7 L288.7 252.8 L289.7 252.8 L290.6 252.9 L291.6 252.9 L292.6 252.9 L293.6 253.0 L294.6 253.0 L295.6 253.1 L296.5 253.1 L297.5 253.1 L298.5 253.2 L299.5 253.2 L300.5 253.3 L301.5 253.3 L302.4 253.3 L303.4 253.4 L304.4 253.4 L305.4 253.5 L306.4 253.5 L307.4 253.5 L308.3 253.6 L309.3 253.6 L310.3 253.6 L311.3 253.7 L312.3 253.7 L313.3 253.7 L314.2 253.8 L315.2 253.8 L316.2 253.8 L317.2 253.9 L318.2 253.9 L319.2 253.9 L320.1 253.9 L321.1 254.0 L322.1 254.0 L323.1 254.0 L324.1 254.0 L325.1 254.1 L326.0 254.1 L327.0 254.1 L328.0 254.1 L329.0 254.2 L330.0 254.2 L331.0 254.2 L331.9 254.2 L332.9 254.2 L334.0 254.2 L335.1 254.3 L336.1 254.3 L337.2 254.3 L338.3 254.3 L339.3 254.3 L340.4 254.3 L341.4 254.3 L342.5 254.4 L343.6 254.4 L344.6 254.4 L345.7 254.4 L346.8 254.4 L347.8 254.4 L348.9 254.4 L350.0 254.4 L351.0 254.4 L352.1 254.5 L353.2 254.5 L354.2 254.5 L355.3 254.5 L356.4 254.5 L357.4 254.5 L358.5 254.5 L359.6 254.5 L360.6 254.5 L361.7 254.5 L362.8 254.5 L363.8 254.5 L364.9 254.6 L366.0 254.6 L367.0 254.6 L368.1 254.6 L369.1 254.6 L370.2 254.6 L371.3 254.6 L372.3 254.6 L373.4 254.6 L374.2 254.6" stroke="#0000ff" stroke-width="0.9" stroke-dasharray="3,1,1,1"/>
<path d="M34.3 244.6h3v3h-3zM37.4 244.6h3v3h-3zM40.5 244.5h3v3h-3zM43.6 244.4h3v3h-3zM46.7 244.3h3v3h-3zM49.8 244.2h3v3h-3zM52.9 244.0h3v3h-3zM56.0 243.9h3v3h-3zM59.1 243.7h3v3h-3zM62.2 243.6h3v3h-3zM65.3 243.4h3v3h-3zM68.4 243.3h3v3h-3zM71.5 243.1h3v3h-3zM74.6 242.9h3v3h-3zM77.7 242.7h3v3h-3zM80.8 242.5h3v3h-3zM83.9 242.3h3v3h-3zM87.0 241.9h3v3h-3zM90.1 241.6h3v3h-3zM93.2 241.2h3v3h-3zM96.3 240.8h3v3h-3zM99.4 240.4h3v3h-3zM102.5 239.9h3v3h-3zM105.6 239.4h3v3h-3zM108.7 238.9h3v3h-3zM111.8 238.3h3v3h-3zM114.9 237.7h3v3h-3zM118.0 237.1h3v3h-3zM121.1 236.3h3v3h-3zM124.0 235.6h3v3h-3zM126.8 234.8h3v3h-3zM129.6 233.8h3v3h-3zM132.4 232.6h3v3h-3zM135.2 231.1h3v3h-3zM137.8 229.5h3v3h-3zM140.3 227.4h3v3h-3zM142.3 225.3h3v3h-3zM144.0 222.9h3v3h-3zM145.7 219.8h3v3h-3zM146.8 127.3h3v3h-3zM147.7 130.0h3v3h-3zM148.1 133.2h3v3h-3zM148.4 136.4h3v3h-3zM148.8 139.6h3v3h-3zM149.3 142.8h3v3h-3zM149.7 145.9h3v3h-3zM150.2 149.1h3v3h-3zM150.7 152.3h3v3h-3zM151.4 155.4h3v3h-3zM152.1 158.5h3v3h-3zM152.9 161.6h3v3h-3zM153.8 164.7h3v3h-3zM154.7 167.8h3v3h-3zM156.1 172.1h3v3h-3zM157.5 176.4h3v3h-3zM158.9 180.6h3v3h-3zM160.4 184.9h3v3h-3zM161.9 189.2h3v3h-3zM163.7 193.5h3v3h-3zM165.6 197.6h3v3h-3zM167.7 201.7h3v3h-3zM170.0 205.6h3v3h-3zM172.4 209.5h3v3h-3zM174.9 213.3h3v3h-3zM177.4 217.1h3v3h-3zM180.1 220.9h3v3h-3zM183.1 224.4h3v3h-3zM186.3 227.6h3v3h-3zM189.7 230.6h3v3h-3zM193.5 233.2h3v3h-3zM197.5 235.3h3v3h-3zM201.7 237.2h3v3h-3zM206.0 238.9h3v3h-3zM210.2 240.4h3v3h-3zM214.5 241.9h3v3h-3zM218.8 243.3h3v3h-3zM223.2 244.5h3v3h-3zM227.6 245.5h3v3h-3zM232.1 246.2h3v3h-3zM236.6 246.9h3v3h-3zM241.1 247.5h3v3h-3zM245.6 248.0h3v3h-3zM250.1 248.5h3v3h-3zM314.5 252.3h3v3h-3zM317.6 252.4h3v3h-3zM320.6 252.5h3v3h-3zM323.6 252.6h3v3h-3zM326.7 252.6h3v3h-3zM329.7 252.7h3v3h-3zM332.7 252.8h3v3h-3zM335.8 252.8h3v3h-3zM338.8 252.8h3v3h-3zM341.8 252.9h3v3h-3zM344.9 252.9h3v3h-3zM347.9 252.9h3v3h-3zM350.9 253.0h3v3h-3zM354.0 253.0h3v3h-3zM357.0 253.0h3v3h-3zM358.6 253.0h3v3h-3zM359.6 253.0h3v3h-3zM360.7 253.0h3v3h-3zM361.7 253.0h3v3h-3zM362.8 253.1h3v3h-3zM363.9 253.1h3v3h-3zM364.9 253.1h3v3h-3zM366.0 253.1h3v3h-3zM367.1 253.1h3v3h-3zM368.1 253.1h3v3h-3zM369.2 253.1h3v3h-3zM370.3 253.1h3v3h-3zM371.3 253.1h3v3h-3zM372.4 253.1h3v3h-3zM256.0 249.1h3v3h-3zM269.2 250.1h3v3h-3zM282.9 251.0h3v3h-3zM296.2 251.7h3v3h-3z" stroke="#0000ff" stroke-width="1"/>
<path d="M35.8 246.1 L36.9 246.1 L38.1 246.1 L39.2 246.1 L40.3 246.1 L41.4 246.0 L42.6 246.0 L43.7 246.0 L44.8 245.9 L46.0 245.9 L47.1 245.9 L48.2 245.8 L49.3 245.8 L50.5 245.7 L51.6 245.7 L52.7 245.6 L53.8 245.6 L55.0 245.5 L56.1 245.5 L57.2 245.4 L58.4 245.4 L59.5 245.3 L60.6 245.2 L61.7 245.2 L62.9 245.1 L64.0 245.1 L65.1 245.0 L66.3 245.0 L67.4 244.9 L68.5 244.8 L69.6 244.8 L70.8 244.7 L71.9 244.7 L73.0 244.6 L74.1 244.6 L75.3 244.5 L76.4 244.4 L77.5 244.4 L78.7 244.3 L79.8 244.2 L80.9 244.2 L82.0 244.1 L83.2 244.0 L84.3 243.9 L85.4 243.8 L86.6 243.7 L87.7 243.6 L88.8 243.5 L89.9 243.3 L91.1 243.2 L92.2 243.1 L93.3 242.9 L94.5 242.8 L95.6 242.7 L96.7 242.5 L97.8 242.4 L99.0 242.2 L100.1 242.0 L101.2 241.9 L102.3 241.7 L103.5 241.6 L104.6 241.4 L105.7 241.2 L106.9 241.0 L108.0 240.9 L109.1 240.7 L110.2 240.5 L111.4 240.3 L112.5 240.1 L113.3 239.9 L114.2 239.8 L115.0 239.6 L115.9 239.4 L116.7 239.3 L117.6 239.1 L118.4 238.9 L119.3 238.7 L120.1 238.5 L121.0 238.3 L121.8 238.1 L122.6 237.9 L123.5 237.7 L124.3 237.5 L125.2 237.3 L126.0 237.1 L126.9 236.8 L127.7 236.6 L128.6 236.3 L129.4 236.0 L130.3 235.8 L131.1 235.5 L132.0 235.1 L132.8 234.8 L133.6 234.4 L134.5 234.1 L135.3 233.6 L136.2 233.2 L137.0 232.7 L137.9 232.2 L138.7 231.7 L139.6 231.1 L140.4 230.5 L141.0 230.0 L141.5 229.6 L142.1 229.1 L142.7 228.5 L143.2 227.9 L143.8 227.3 L144.4 226.6 L144.9 225.8 L145.5 225.0 L146.1 224.2 L146.6 223.3 L147.2 222.2 L147.7 221.0 L148.7 219.6 L148.7 128.8 L148.9 129.3 L149.0 130.2 L149.1 131.1 L149.2 132.0 L149.3 132.9 L149.4 133.8 L149.6 134.7 L149.7 135.6 L149.8 136.5 L149.9 137.4 L150.0 138.3 L150.1 139.2 L150.2 140.1 L150.3 141.0 L150.4 141.9 L150.6 142.8 L150.7 143.7 L150.8 144.6 L150.9 145.5 L151.0 146.4 L151.2 147.3 L151.3 148.2 L151.4 149.0 L151.6 149.9 L151.7 150.8 L151.9 151.7 L152.0 152.5 L152.2 153.4 L152.3 154.2 L152.5 155.1 L152.7 155.9 L152.8 156.7 L153.0 157.6 L153.2 158.4 L153.4 159.2 L153.6 160.0 L153.8 160.8 L154.0 161.6 L154.2 162.4 L154.4 163.2 L154.6 164.0 L154.9 164.8 L155.1 165.6 L155.3 166.4 L155.5 167.1 L155.8 167.9 L156.0 168.7 L156.3 169.4 L156.5 170.2 L156.8 171.0 L157.0 171.7 L157.3 172.5 L157.5 173.2 L157.8 174.0 L158.0 174.7 L158.3 175.5 L158.5 176.2 L158.8 177.0 L159.0 177.8 L159.2 178.5 L159.5 179.3 L159.7 180.0 L160.0 180.8 L160.2 181.6 L160.5 182.3 L160.7 183.1 L161.0 183.8 L161.3 184.7 L161.6 185.7 L162.0 186.6 L162.3 187.6 L162.6 188.5 L163.0 189.4 L163.3 190.3 L163.6 191.1 L163.9 192.0 L164.3 192.8 L164.6 193.7 L164.9 194.4 L165.3 195.2 L165.6 196.0 L165.9 196.7 L166.2 197.4 L166.6 198.1 L166.9 198.8 L167.3 199.6 L167.7 200.4 L168.1 201.2 L168.5 202.0 L168.9 202.7 L169.3 203.5 L169.8 204.2 L170.2 204.9 L170.6 205.6 L171.0 206.3 L171.4 207.0 L171.8 207.6 L172.2 208.3 L172.6 209.0 L173.0 209.6 L173.4 210.3 L173.9 210.9 L174.3 211.5 L174.7 212.2 L175.1 212.8 L175.5 213.4 L175.9 214.1 L176.3 214.7 L176.7 215.3 L177.1 215.9 L177.5 216.6 L178.0 217.2 L178.4 217.8 L178.8 218.4 L179.2 219.0 L179.7 219.7 L180.2 220.4 L180.7 221.1 L181.1 221.7 L181.6 222.4 L182.1 223.0 L182.6 223.6 L183.1 224.2 L183.6 224.8 L184.1 225.4 L184.6 225.9 L185.1 226.4 L185.7 227.0 L186.2 227.6 L186.8 228.2 L187.4 228.7 L188.0 229.3 L188.5 229.8 L189.1 230.3 L189.7 230.8 L190.2 231.3 L190.8 231.8 L191.4 232.2 L192.0 232.7 L192.6 233.1 L193.3 233.6 L193.9 234.0 L194.6 234.5 L195.2 234.8 L195.9 235.2 L196.6 235.6 L197.2 235.9 L197.9 236.3 L198.7 236.7 L199.4 237.0 L200.2 237.4 L200.9 237.7 L201.6 238.1 L202.4 238.4 L203.1 238.7 L203.9 239.0 L204.6 239.3 L205.3 239.6 L206.1 239.9 L206.8 240.1 L207.5 240.4 L208.3 240.7 L209.0 241.0 L209.8 241.2 L210.6 241.5 L211.4 241.8 L212.2 242.1 L213.0 242.4 L213.8 242.7 L214.7 242.9 L215.5 243.2 L216.3 243.5 L217.1 243.8 L217.9 244.0 L218.8 244.3 L219.6 244.6 L220.4 244.8 L221.2 245.1 L222.0 245.3 L222.9 245.5 L223.7 245.7 L224.5 246.0 L225.3 246.2 L226.1 246.4 L227.0 246.5 L227.9 246.7 L228.8 246.9 L229.7 247.1 L230.6 247.2 L231.5 247.4 L232.4 247.5 L233.3 247.7 L234.2 247.8 L235.1 248.0 L236.0 248.1 L236.9 248.2 L237.8 248.3 L238.7 248.5 L239.6 248.6 L240.5 248.7 L241.4 248.8 L242.3 248.9 L243.2 249.0 L244.1 249.1 L245.0 249.2 L245.9 249.4 L246.8 249.5 L247.7 249.6 L248.6 249.7 L249.5 249.8 L250.4 249.9 L251.3 250.0 L252.3 250.1 L253.3 250.2 L254.3 250.3 L255.2 250.4 L256.2 250.5 L257.2 250.6 L258.2 250.7 L259.2 250.7 L260.2 250.8 L261.1 250.9 L262.1 251.0 L263.1 251.1 L264.1 251.1 L265.1 251.2 L266.1 251.3 L267.0 251.4 L268.0 251.4 L269.0 251.5 L270.0 251.6 L271.0 251.7 L272.0 251.7 L272.9 251.8 L273.9 251.9 L274.9 251.9 L275.9 252.0 L276.9 252.1 L277.9 252.1 L278.8 252.2 L279.8 252.3 L280.8 252.3 L281.8 252.4 L282.8 252.4 L283.8 252.5 L284.7 252.6 L285.7 252.6 L286.7 252.7 L287.7 252.7 L288.7 252.8 L289.7 252.8 L290.6 252.9 L291.6 252.9 L292.6 252.9 L293.6 253.0 L294.6 253.0 L295.6 253.1 L296.5 253.1 L297.5 253.1 L298.5 253.2 L299.5 253.2 L300.5 253.3 L301.5 253.3 L302.4 253.3 L303.4 253.4 L304.4 253.4 L305.4 253.5 L306.4 253.5 L307.4 253.5 L308.3 253.6 L309.3 253.6 L310.3 253.6 L311.3 253.7 L312.3 253.7 L313.3 253.7 L314.2 253.8 L315.2 253.8 L316.2 253.8 L317.2 253.9 L318.2 253.9 L319.2 253.9 L320.1 253.9 L321.1 254.0 L322.1 254.0 L323.1 254.0 L324.1 254.0 L325.1 254.1 L326.0 254.1 L327.0 254.1 L328.0 254.1 L329.0 254.2 L330.0 254.2 L331.0 254.2 L331.9 254.2 L332.9 254.2 L334.0 254.2 L335.1 254.3 L336.1 254.3 L337.2 254.3 L338.3 254.3 L339.3 254.3 L340.4 254.3 L341.4 254.3 L342.5 254.4 L343.6 254.4 L344.6 254.4 L345.7 254.4 L346.8 254.4 L347.8 254.4 L348.9 254.4 L350.0 254.4 L351.0 254.4 L352.1 254.5 L353.2 254.5 L354.2 254.5 L355.3 254.5 L356.4 254.5 L357.4 254.5 L358.5 254.5 L359.6 254.5 L360.6 254.5 L361.7 254.5 L362.8 254.5 L363.8 254.5 L364.9 254.6 L366.0 254.6 L367.0 254.6 L368.1 254.6 L369.1 254.6 L370.2 254.6 L371.3 254.6 L372.3 254.6 L373.4 254.6 L374.2 254.6" stroke="#00ffff" stroke-width="0.9" stroke-dasharray="3,1,1,1,1,1"/>
<path d="M32.8 243.1h6v6h-6zM35.9 243.1h6v6h-6zM39.0 243.0h6v6h-6zM42.1 242.9h6v6h-6zM45.2 242.8h6v6h-6zM48.3 242.7h6v6h-6zM51.4 242.6h6v6h-6zM54.5 242.4h6v6h-6zM57.6 242.2h6v6h-6zM60.7 242.1h6v6h-6zM63.8 241.9h6v6h-6zM66.9 241.8h6v6h-6zM70.0 241.6h6v6h-6zM73.1 241.5h6v6h-6zM76.2 241.3h6v6h-6zM79.3 241.1h6v6h-6zM82.4 240.8h6v6h-6zM85.5 240.5h6v6h-6zM88.6 240.1h6v6h-6zM91.7 239.8h6v6h-6zM94.8 239.4h6v6h-6zM97.9 238.9h6v6h-6zM101.0 238.5h6v6h-6zM104.1 238.0h6v6h-6zM107.2 237.5h6v6h-6zM110.3 236.9h6v6h-6zM113.4 236.3h6v6h-6zM116.5 235.6h6v6h-6zM119.6 234.9h6v6h-6zM122.5 234.2h6v6h-6zM125.3 233.4h6v6h-6zM128.1 232.5h6v6h-6zM130.9 231.3h6v6h-6zM133.7 229.9h6v6h-6zM136.3 228.3h6v6h-6zM138.8 226.3h6v6h-6zM141.1 223.9h6v6h-6zM143.1 221.2h6v6h-6zM144.5 218.6h6v6h-6zM145.3 125.8h6v6h-6zM146.2 128.5h6v6h-6zM146.6 131.7h6v6h-6zM146.9 134.9h6v6h-6zM147.3 138.1h6v6h-6zM147.8 141.3h6v6h-6zM148.2 144.4h6v6h-6zM148.7 147.6h6v6h-6zM149.2 150.8h6v6h-6zM149.9 153.9h6v6h-6zM150.6 157.0h6v6h-6zM151.4 160.1h6v6h-6zM152.3 163.2h6v6h-6zM153.2 166.3h6v6h-6zM154.6 170.6h6v6h-6zM156.0 174.9h6v6h-6zM157.4 179.1h6v6h-6zM158.9 183.4h6v6h-6zM160.4 187.7h6v6h-6zM162.2 192.0h6v6h-6zM164.1 196.1h6v6h-6zM166.2 200.2h6v6h-6zM168.5 204.1h6v6h-6zM170.9 208.0h6v6h-6zM173.4 211.8h6v6h-6zM175.9 215.6h6v6h-6zM178.6 219.4h6v6h-6zM181.6 222.9h6v6h-6zM184.8 226.1h6v6h-6zM188.2 229.1h6v6h-6zM192.0 231.7h6v6h-6zM196.0 233.8h6v6h-6zM200.2 235.7h6v6h-6zM204.5 237.4h6v6h-6zM208.7 238.9h6v6h-6zM213.0 240.4h6v6h-6zM217.3 241.8h6v6h-6zM221.7 243.0h6v6h-6zM226.1 244.0h6v6h-6zM230.6 244.7h6v6h-6zM235.1 245.4h6v6h-6zM239.6 246.0h6v6h-6zM244.1 246.5h6v6h-6zM248.6 247.0h6v6h-6zM313.0 250.8h6v6h-6zM316.1 250.9h6v6h-6zM319.1 251.0h6v6h-6zM322.1 251.1h6v6h-6zM325.2 251.1h6v6h-6zM328.2 251.2h6v6h-6zM331.2 251.3h6v6h-6zM334.3 251.3h6v6h-6zM337.3 251.3h6v6h-6zM340.3 251.4h6v6h-6zM343.4 251.4h6v6h-6zM346.4 251.4h6v6h-6zM349.4 251.5h6v6h-6zM352.5 251.5h6v6h-6zM355.5 251.5h6v6h-6zM357.1 251.5h6v6h-6zM358.1 251.5h6v6h-6zM359.2 251.5h6v6h-6zM360.2 251.5h6v6h-6zM361.3 251.6h6v6h-6zM362.4 251.6h6v6h-6zM363.4 251.6h6v6h-6zM364.5 251.6h6v6h-6zM365.6 251.6h6v6h-6zM366.6 251.6h6v6h-6zM367.7 251.6h6v6h-6zM368.8 251.6h6v6h-6zM369.8 251.6h6v6h-6zM370.9 251.6h6v6h-6zM260.7 248.1h6v6h-6zM274.5 249.1h6v6h-6zM288.2 249.9h6v6h-6zM301.9 250.4h6v6h-6zM309.3 250.7h6v6h-6z" stroke="#00ffff" stroke-width="1"/>
<path d="M35.8 246.1 L36.9 246.1 L38.1 246.1 L39.2 246.1 L40.3 246.0 L41.4 246.0 L42.6 246.0 L43.7 245.9 L44.8 245.9 L46.0 245.9 L47.1 245.8 L48.2 245.8 L49.3 245.7 L50.5 245.7 L51.6 245.7 L52.7 245.6 L53.8 245.6 L55.0 245.5 L56.1 245.4 L57.2 245.4 L58.4 245.3 L59.5 245.3 L60.6 245.2 L61.7 245.1 L62.9 245.1 L64.0 245.0 L65.1 245.0 L66.3 244.9 L67.4 244.9 L68.5 244.8 L69.6 244.8 L70.8 244.7 L71.9 244.6 L73.0 244.6 L74.1 244.5 L75.3 244.5 L76.4 244.4 L77.5 244.3 L78.7 244.2 L79.8 244.2 L80.9 244.1 L82.0 244.0 L83.2 243.9 L84.3 243.8 L85.4 243.7 L86.6 243.6 L87.7 243.5 L88.8 243.4 L89.9 243.2 L91.1 243.1 L92.2 243.0 L93.3 242.8 L94.5 242.7 L95.6 242.5 L96.7 242.4 L97.8 242.2 L99.0 242.1 L100.1 241.9 L101.2 241.8 L102.3 241.6 L103.5 241.4 L104.6 241.3 L105.7 241.1 L106.9 240.9 L108.0 240.7 L109.1 240.5 L110.2 240.3 L111.4 240.1 L112.2 240.0 L113.1 239.8 L113.9 239.6 L114.8 239.5 L115.6 239.3 L116.4 239.1 L117.3 239.0 L118.1 238.8 L119.0 238.6 L119.8 238.4 L120.7 238.2 L121.5 238.0 L122.4 237.8 L123.2 237.6 L124.1 237.4 L124.9 237.1 L125.7 236.9 L126.6 236.7 L127.4 236.4 L128.3 236.1 L129.1 235.8 L130.0 235.6 L130.8 235.2 L131.7 234.9 L132.5 234.6 L133.4 234.2 L134.2 233.8 L135.1 233.3 L135.9 232.9 L136.7 232.4 L137.6 231.9 L138.4 231.3 L139.3 230.7 L140.1 230.0 L140.7 229.6 L141.3 229.0 L141.8 228.5 L142.4 227.9 L143.0 227.3 L143.5 226.6 L144.1 225.8 L144.6 225.0 L145.2 224.2 L145.8 223.2 L146.3 222.2 L146.9 220.9 L147.5 219.5 L147.7 218.8 L148.0 218.0 L148.3 217.2 M148.3 88.4 L148.6 89.2 L148.6 90.1 L148.7 91.0 L148.8 92.0 L148.9 92.9 L149.0 93.8 L149.1 94.7 L149.2 95.6 L149.4 96.4 L149.6 97.3 L149.8 98.1 L150.0 98.9 L150.2 99.7 L150.4 100.5 L150.5 101.3 L150.7 102.2 L150.8 103.1 L150.9 104.0 L151.0 104.9 L151.1 105.8 L151.2 106.8 L151.3 107.7 L151.3 108.6 L151.4 109.6 L151.5 110.5 L151.5 111.5 L151.6 112.4 L151.7 113.4 L151.7 114.4 L151.8 115.3 L151.8 116.3 L151.9 117.2 L152.0 118.1 L152.0 119.1 L152.1 120.1 L152.2 121.0 L152.2 122.0 L152.3 122.9 L152.4 123.9 L152.5 124.8 L152.5 125.7 L152.6 126.7 L152.7 127.6 L152.8 128.5 L152.9 129.5 L152.9 130.4 L153.0 131.4 L153.1 132.3 L153.2 133.2 L153.3 134.2 L153.4 135.1 L153.5 136.0 L153.5 137.0 L153.6 137.9 L153.7 138.8 L153.8 139.8 L153.9 140.7 L154.0 141.6 L154.1 142.6 L154.2 143.5 L154.3 144.4 L154.4 145.3 L154.5 146.2 L154.6 147.1 L154.7 148.0 L154.8 149.0 L154.9 149.9 L155.0 150.8 L155.1 151.6 L155.2 152.5 L155.4 153.4 L155.5 154.3 L155.6 155.2 L155.8 156.0 L155.9 156.9 L156.1 157.8 L156.3 158.6 L156.4 159.5 L156.6 160.3 L156.8 161.1 L156.9 162.0 L157.1 162.8 L157.3 163.6 L157.5 164.4 L157.7 165.3 L157.9 166.1 L158.1 166.9 L158.3 167.7 L158.5 168.5 L158.7 169.3 L158.9 170.0 L159.2 170.8 L159.4 171.6 L159.6 172.4 L159.8 173.2 L160.1 173.9 L160.3 174.7 L160.5 175.5 L160.7 176.3 L161.0 177.1 L161.2 177.8 L161.5 178.9 L161.7 179.7 L162.0 180.6 L162.2 181.4 L162.5 182.2 L162.7 183.1 L163.0 183.9 L163.2 184.7 L163.4 185.5 L163.7 186.3 L163.9 187.0 L164.2 187.8 L164.5 188.8 L164.8 189.8 L165.2 190.7 L165.5 191.7 L165.8 192.6 L166.2 193.5 L166.5 194.3 L166.8 195.2 L167.1 196.0 L167.5 196.8 L167.8 197.5 L168.1 198.3 L168.4 199.0 L168.8 199.7 L169.1 200.4 L169.4 201.1 L169.8 201.9 L170.2 202.7 L170.7 203.5 L171.1 204.2 L171.5 205.0 L171.9 205.7 L172.3 206.4 L172.7 207.1 L173.1 207.8 L173.5 208.5 L173.9 209.2 L174.3 209.9 L174.8 210.5 L175.2 211.2 L175.6 211.8 L176.0 212.5 L176.4 213.2 L176.8 213.8 L177.2 214.5 L177.6 215.1 L178.0 215.8 L178.4 216.4 L178.9 217.0 L179.3 217.7 L179.7 218.3 L180.1 218.9 L180.5 219.5 L180.9 220.1 L181.4 220.8 L181.9 221.5 L182.4 222.2 L182.9 222.8 L183.4 223.5 L183.9 224.1 L184.3 224.7 L184.8 225.2 L185.3 225.8 L185.8 226.3 L186.3 226.8 L186.9 227.4 L187.5 228.0 L188.0 228.6 L188.6 229.1 L189.2 229.7 L189.8 230.2 L190.3 230.7 L190.9 231.2 L191.5 231.7 L192.0 232.1 L192.6 232.6 L193.2 233.0 L193.9 233.5 L194.5 233.9 L195.2 234.3 L195.8 234.7 L196.5 235.1 L197.1 235.5 L197.8 235.8 L198.4 236.2 L199.2 236.6 L199.9 236.9 L200.7 237.3 L201.4 237.6 L202.1 238.0 L202.9 238.3 L203.6 238.6 L204.3 238.9 L205.1 239.2 L205.8 239.5 L206.6 239.8 L207.3 240.1 L208.0 240.4 L208.8 240.6 L209.5 240.9 L210.2 241.2 L211.0 241.4 L211.8 241.7 L212.6 242.0 L213.4 242.3 L214.3 242.6 L215.1 242.9 L215.9 243.1 L216.7 243.4 L217.5 243.7 L218.4 244.0 L219.2 244.2 L220.0 244.5 L220.8 244.7 L221.6 245.0 L222.5 245.2 L223.3 245.5 L224.1 245.7 L224.9 245.9 L225.7 246.1 L226.6 246.3 L227.4 246.5 L228.3 246.7 L229.2 246.9 L230.1 247.0 L231.0 247.2 L231.9 247.3 L232.8 247.5 L233.7 247.6 L234.6 247.8 L235.5 247.9 L236.4 248.0 L237.3 248.2 L238.2 248.3 L239.1 248.4 L240.0 248.5 L240.9 248.7 L241.8 248.8 L242.7 248.9 L243.6 249.0 L244.5 249.1 L245.4 249.2 L246.3 249.3 L247.2 249.4 L248.1 249.5 L249.0 249.7 L249.9 249.8 L250.8 249.9 L251.7 250.0 L252.7 250.1 L253.7 250.2 L254.7 250.3 L255.6 250.4 L256.6 250.5 L257.6 250.6 L258.6 250.6 L259.6 250.7 L260.6 250.8 L261.5 250.9 L262.5 251.0 L263.5 251.0 L264.5 251.1 L265.5 251.2 L266.5 251.3 L267.4 251.4 L268.4 251.4 L269.4 251.5 L270.4 251.6 L271.4 251.7 L272.4 251.7 L273.3 251.8 L274.3 251.9 L275.3 251.9 L276.3 252.0 L277.3 252.1 L278.3 252.1 L279.2 252.2 L280.2 252.2 L281.2 252.3 L282.2 252.4 L283.2 252.4 L284.2 252.5 L285.1 252.5 L286.1 252.6 L287.1 252.6 L288.1 252.7 L289.1 252.7 L290.1 252.8 L291.0 252.8 L292.0 252.9 L293.0 252.9 L294.0 253.0 L295.0 253.0 L296.0 253.1 L296.9 253.1 L297.9 253.1 L298.9 253.2 L299.9 253.2 L300.9 253.3 L301.9 253.3 L302.8 253.3 L303.8 253.4 L304.8 253.4 L305.8 253.4 L306.8 253.5 L307.8 253.5 L308.7 253.6 L309.7 253.6 L310.7 253.6 L311.7 253.7 L312.7 253.7 L313.7 253.7 L314.6 253.8 L315.6 253.8 L316.6 253.8 L317.6 253.8 L318.6 253.9 L319.6 253.9 L320.6 253.9 L321.5 254.0 L322.5 254.0 L323.5 254.0 L324.5 254.0 L325.5 254.1 L326.5 254.1 L327.4 254.1 L328.4 254.1 L329.4 254.2 L330.4 254.2 L331.4 254.2 L332.4 254.2 L333.3 254.2 L334.4 254.2 L335.5 254.3 L336.5 254.3 L337.6 254.3 L338.7 254.3 L339.7 254.3 L340.8 254.3 L341.9 254.3 L342.9 254.4 L344.0 254.4 L345.1 254.4 L346.1 254.4 L347.2 254.4 L348.3 254.4 L349.3 254.4 L350.4 254.4 L351.4 254.4 L352.5 254.5 L353.6 254.5 L354.6 254.5 L355.7 254.5 L356.8 254.5 L357.8 254.5 L358.9 254.5 L360.0 254.5 L361.0 254.5 L362.1 254.5 L363.2 254.5 L364.2 254.5 L365.3 254.6 L366.4 254.6 L367.4 254.6 L368.5 254.6 L369.6 254.6 L370.6 254.6 L371.7 254.6 L372.8 254.6 L373.8 254.6 L374.2 254.6" stroke="#008080" stroke-width="0.9" stroke-dasharray="1.5,1"/>
<path d="M34.0 244.3h3.6v3.6h-3.6zM37.1 244.3h3.6v3.6h-3.6zM40.2 244.2h3.6v3.6h-3.6zM43.3 244.1h3.6v3.6h-3.6zM46.4 244.0h3.6v3.6h-3.6zM49.5 243.9h3.6v3.6h-3.6zM52.6 243.7h3.6v3.6h-3.6zM55.7 243.6h3.6v3.6h-3.6zM58.8 243.4h3.6v3.6h-3.6zM61.9 243.2h3.6v3.6h-3.6zM65.0 243.1h3.6v3.6h-3.6zM68.1 242.9h3.6v3.6h-3.6zM71.2 242.8h3.6v3.6h-3.6zM74.3 242.6h3.6v3.6h-3.6zM77.4 242.4h3.6v3.6h-3.6zM80.5 242.2h3.6v3.6h-3.6zM83.6 241.9h3.6v3.6h-3.6zM86.7 241.6h3.6v3.6h-3.6zM89.8 241.2h3.6v3.6h-3.6zM92.9 240.9h3.6v3.6h-3.6zM96.0 240.4h3.6v3.6h-3.6zM99.1 240.0h3.6v3.6h-3.6zM102.2 239.5h3.6v3.6h-3.6zM105.3 239.1h3.6v3.6h-3.6zM108.4 238.5h3.6v3.6h-3.6zM111.5 238.0h3.6v3.6h-3.6zM114.6 237.3h3.6v3.6h-3.6zM117.7 236.7h3.6v3.6h-3.6zM120.8 235.9h3.6v3.6h-3.6zM123.7 235.2h3.6v3.6h-3.6zM126.5 234.3h3.6v3.6h-3.6zM129.3 233.3h3.6v3.6h-3.6zM132.1 232.1h3.6v3.6h-3.6zM134.9 230.6h3.6v3.6h-3.6zM137.5 228.9h3.6v3.6h-3.6zM139.7 227.0h3.6v3.6h-3.6zM141.7 224.8h3.6v3.6h-3.6zM143.4 222.4h3.6v3.6h-3.6zM144.8 219.8h3.6v3.6h-3.6zM145.9 217.0h3.6v3.6h-3.6zM146.5 86.6h3.6v3.6h-3.6zM147.1 90.6h3.6v3.6h-3.6zM147.6 94.8h3.6v3.6h-3.6zM148.6 98.9h3.6v3.6h-3.6zM149.2 103.0h3.6v3.6h-3.6zM149.6 107.2h3.6v3.6h-3.6zM149.9 111.4h3.6v3.6h-3.6zM150.1 115.6h3.6v3.6h-3.6zM151.2 129.6h3.6v3.6h-3.6zM151.5 132.8h3.6v3.6h-3.6zM151.8 136.0h3.6v3.6h-3.6zM152.1 139.2h3.6v3.6h-3.6zM152.5 142.4h3.6v3.6h-3.6zM152.8 145.6h3.6v3.6h-3.6zM153.2 148.8h3.6v3.6h-3.6zM153.6 152.0h3.6v3.6h-3.6zM154.2 155.2h3.6v3.6h-3.6zM154.8 158.3h3.6v3.6h-3.6zM155.4 161.5h3.6v3.6h-3.6zM156.2 164.6h3.6v3.6h-3.6zM157.0 167.7h3.6v3.6h-3.6zM158.2 172.0h3.6v3.6h-3.6zM159.5 176.5h3.6v3.6h-3.6zM160.8 181.0h3.6v3.6h-3.6zM162.2 185.5h3.6v3.6h-3.6zM163.7 189.9h3.6v3.6h-3.6zM165.3 194.2h3.6v3.6h-3.6zM167.2 198.4h3.6v3.6h-3.6zM169.3 202.4h3.6v3.6h-3.6zM171.6 206.4h3.6v3.6h-3.6zM173.9 210.3h3.6v3.6h-3.6zM176.4 214.2h3.6v3.6h-3.6zM178.9 218.1h3.6v3.6h-3.6zM181.6 221.8h3.6v3.6h-3.6zM184.7 225.2h3.6v3.6h-3.6zM188.0 228.4h3.6v3.6h-3.6zM191.5 231.3h3.6v3.6h-3.6zM195.3 233.7h3.6v3.6h-3.6zM199.3 235.7h3.6v3.6h-3.6zM203.5 237.5h3.6v3.6h-3.6zM207.8 239.1h3.6v3.6h-3.6zM212.0 240.6h3.6v3.6h-3.6zM216.3 242.1h3.6v3.6h-3.6zM220.7 243.4h3.6v3.6h-3.6zM225.1 244.6h3.6v3.6h-3.6zM229.5 245.4h3.6v3.6h-3.6zM234.0 246.2h3.6v3.6h-3.6zM238.5 246.8h3.6v3.6h-3.6zM243.0 247.3h3.6v3.6h-3.6zM247.5 247.9h3.6v3.6h-3.6zM252.0 248.4h3.6v3.6h-3.6zM313.3 252.0h3.6v3.6h-3.6zM316.3 252.1h3.6v3.6h-3.6zM319.3 252.2h3.6v3.6h-3.6zM322.4 252.2h3.6v3.6h-3.6zM325.4 252.3h3.6v3.6h-3.6zM328.4 252.4h3.6v3.6h-3.6zM331.5 252.4h3.6v3.6h-3.6zM334.5 252.5h3.6v3.6h-3.6zM337.5 252.5h3.6v3.6h-3.6zM340.5 252.5h3.6v3.6h-3.6zM343.6 252.6h3.6v3.6h-3.6zM346.6 252.6h3.6v3.6h-3.6zM349.6 252.6h3.6v3.6h-3.6zM352.7 252.7h3.6v3.6h-3.6zM355.7 252.7h3.6v3.6h-3.6zM358.3 252.7h3.6v3.6h-3.6zM359.3 252.7h3.6v3.6h-3.6zM360.4 252.7h3.6v3.6h-3.6zM361.4 252.7h3.6v3.6h-3.6zM362.5 252.7h3.6v3.6h-3.6zM363.6 252.8h3.6v3.6h-3.6zM364.6 252.8h3.6v3.6h-3.6zM365.7 252.8h3.6v3.6h-3.6zM366.8 252.8h3.6v3.6h-3.6zM367.8 252.8h3.6v3.6h-3.6zM368.9 252.8h3.6v3.6h-3.6zM370.0 252.8h3.6v3.6h-3.6zM371.0 252.8h3.6v3.6h-3.6zM372.1 252.8h3.6v3.6h-3.6zM261.9 249.3h3.6v3.6h-3.6zM275.7 250.3h3.6v3.6h-3.6zM289.4 251.0h3.6v3.6h-3.6zM303.1 251.6h3.6v3.6h-3.6zM310.5 251.9h3.6v3.6h-3.6z" stroke="#008080" stroke-width="1.25"/>
</g>
<rect x="35.8" y="23.5" width="338.5" height="259.8" fill="none" stroke="#262626" stroke-width="1.2"/>
<path d="M35.8 23.5v7M35.8 283.3v-7M46.6 23.5v4M46.6 283.3v-4M57.3 23.5v4M57.3 283.3v-4M68.1 23.5v4M68.1 283.3v-4M78.9 23.5v7M78.9 283.3v-7M89.7 23.5v4M89.7 283.3v-4M100.4 23.5v4M100.4 283.3v-4M111.2 23.5v4M111.2 283.3v-4M122.0 23.5v7M122.0 283.3v-7M132.8 23.5v4M132.8 283.3v-4M143.5 23.5v4M143.5 283.3v-4M154.3 23.5v4M154.3 283.3v-4M165.1 23.5v7M165.1 283.3v-7M175.8 23.5v4M175.8 283.3v-4M186.6 23.5v4M186.6 283.3v-4M197.4 23.5v4M197.4 283.3v-4M208.2 23.5v7M208.2 283.3v-7M218.9 23.5v4M218.9 283.3v-4M229.7 23.5v4M229.7 283.3v-4M240.5 23.5v4M240.5 283.3v-4M251.2 23.5v7M251.2 283.3v-7M262.0 23.5v4M262.0 283.3v-4M272.8 23.5v4M272.8 283.3v-4M283.6 23.5v4M283.6 283.3v-4M294.3 23.5v7M294.3 283.3v-7M305.1 23.5v4M305.1 283.3v-4M315.9 23.5v4M315.9 283.3v-4M326.7 23.5v4M326.7 283.3v-4M337.4 23.5v7M337.4 283.3v-7M348.2 23.5v4M348.2 283.3v-4M359.0 23.5v4M359.0 283.3v-4M369.7 23.5v4M369.7 283.3v-4M35.8 283.3h7M374.3 283.3h-7M35.8 276.1h4M374.3 276.1h-4M35.8 268.9h4M374.3 268.9h-4M35.8 261.6h4M374.3 261.6h-4M35.8 254.4h7M374.3 254.4h-7M35.8 247.2h4M374.3 247.2h-4M35.8 240.0h4M374.3 240.0h-4M35.8 232.8h4M374.3 232.8h-4M35.8 225.6h7M374.3 225.6h-7M35.8 218.3h4M374.3 218.3h-4M35.8 211.1h4M374.3 211.1h-4M35.8 203.9h4M374.3 203.9h-4M35.8 196.7h7M374.3 196.7h-7M35.8 189.5h4M374.3 189.5h-4M35.8 182.2h4M374.3 182.2h-4M35.8 175.0h4M374.3 175.0h-4M35.8 167.8h7M374.3 167.8h-7M35.8 160.6h4M374.3 160.6h-4M35.8 153.4h4M374.3 153.4h-4M35.8 146.2h4M374.3 146.2h-4M35.8 138.9h7M374.3 138.9h-7M35.8 131.7h4M374.3 131.7h-4M35.8 124.5h4M374.3 124.5h-4M35.8 117.3h4M374.3 117.3h-4M35.8 110.1h7M374.3 110.1h-7M35.8 102.9h4M374.3 102.9h-4M35.8 95.6h4M374.3 95.6h-4M35.8 88.4h4M374.3 88.4h-4M35.8 81.2h7M374.3 81.2h-7M35.8 74.0h4M374.3 74.0h-4M35.8 66.8h4M374.3 66.8h-4M35.8 59.5h4M374.3 59.5h-4M35.8 52.3h7M374.3 52.3h-7M35.8 45.1h4M374.3 45.1h-4M35.8 37.9h4M374.3 37.9h-4M35.8 30.7h4M374.3 30.7h-4M35.8 23.5h7M374.3 23.5h-7" stroke="#1a1a1a" stroke-width="1" fill="none"/>
<text transform="translate(35.8,300.2) scale(0.87,1)" text-anchor="middle">0</text>
<text transform="translate(35.8,14.6) scale(0.87,1)" text-anchor="middle">0</text>
<text transform="translate(78.9,300.2) scale(0.87,1)" text-anchor="middle">0.2</text>
<text transform="translate(78.9,14.6) scale(0.87,1)" text-anchor="middle">0.2</text>
<text transform="translate(122.0,300.2) scale(0.87,1)" text-anchor="middle">0.4</text>
<text transform="translate(122.0,14.6) scale(0.87,1)" text-anchor="middle">0.4</text>
<text transform="translate(165.1,300.2) scale(0.87,1)" text-anchor="middle">0.6</text>
<text transform="translate(165.1,14.6) scale(0.87,1)" text-anchor="middle">0.6</text>
<text transform="translate(208.2,300.2) scale(0.87,1)" text-anchor="middle">0.8</text>
<text transform="translate(208.2,14.6) scale(0.87,1)" text-anchor="middle">0.8</text>
<text transform="translate(251.2,300.2) scale(0.87,1)" text-anchor="middle">1</text>
<text transform="translate(251.2,14.6) scale(0.87,1)" text-anchor="middle">1</text>
<text transform="translate(294.3,300.2) scale(0.87,1)" text-anchor="middle">1.2</text>
<text transform="translate(294.3,14.6) scale(0.87,1)" text-anchor="middle">1.2</text>
<text transform="translate(337.4,300.2) scale(0.87,1)" text-anchor="middle">1.4</text>
<text transform="translate(337.4,14.6) scale(0.87,1)" text-anchor="middle">1.4</text>
<text transform="translate(30.4,286.4) scale(0.87,1)" text-anchor="end">−2</text>
<text transform="translate(379.5,286.4) scale(0.87,1)" text-anchor="start">−2</text>
<text transform="translate(30.4,257.5) scale(0.87,1)" text-anchor="end">0</text>
<text transform="translate(379.5,257.5) scale(0.87,1)" text-anchor="start">0</text>
<text transform="translate(30.4,228.7) scale(0.87,1)" text-anchor="end">2</text>
<text transform="translate(379.5,228.7) scale(0.87,1)" text-anchor="start">2</text>
<text transform="translate(30.4,199.8) scale(0.87,1)" text-anchor="end">4</text>
<text transform="translate(379.5,199.8) scale(0.87,1)" text-anchor="start">4</text>
<text transform="translate(30.4,170.9) scale(0.87,1)" text-anchor="end">6</text>
<text transform="translate(379.5,170.9) scale(0.87,1)" text-anchor="start">6</text>
<text transform="translate(30.4,142.0) scale(0.87,1)" text-anchor="end">8</text>
<text transform="translate(379.5,142.0) scale(0.87,1)" text-anchor="start">8</text>
<text transform="translate(30.4,113.2) scale(0.87,1)" text-anchor="end">10</text>
<text transform="translate(379.5,113.2) scale(0.87,1)" text-anchor="start">10</text>
<text transform="translate(30.4,84.3) scale(0.87,1)" text-anchor="end">12</text>
<text transform="translate(379.5,84.3) scale(0.87,1)" text-anchor="start">12</text>
<text transform="translate(30.4,55.4) scale(0.87,1)" text-anchor="end">14</text>
<text transform="translate(379.5,55.4) scale(0.87,1)" text-anchor="start">14</text>
<text transform="translate(30.4,26.6) scale(0.87,1)" text-anchor="end">16</text>
<text transform="translate(379.5,26.6) scale(0.87,1)" text-anchor="start">16</text>
<text x="207" y="315.6" text-anchor="middle" font-size="10.5">θ</text>
<g transform="translate(15,164.4) rotate(-90)"><text x="0" y="0" font-size="14" font-style="italic">∂</text><text x="4.9" y="-3.6" font-size="8">2</text><text x="8.6" y="1.5" font-size="8">λ</text><text x="13.3" y="-0.5" font-size="12">ε</text><text x="17.6" y="1.2" font-size="8">o</text></g>
<text x="152.8" y="55.5" font-size="14" font-style="italic">θ<tspan font-size="9" dy="2">c</tspan></text>
<line x1="262.3" y1="57.8" x2="292" y2="57.8" stroke="#000" stroke-width="1"/>
<text transform="translate(299.0,62.4) scale(0.905,1)" text-anchor="start">Bare</text>
<line x1="262.3" y1="70.8" x2="292" y2="70.8" stroke="#ff0000" stroke-width="0.9" stroke-dasharray="3,1.5"/>
<rect x="274.8" y="68.3" width="5" height="5" fill="none" stroke="#ff0000" stroke-width="1"/>
<text transform="translate(299.0,75.4) scale(0.905,1)" text-anchor="start">Pade[2,6]</text>
<line x1="262.3" y1="83.8" x2="292" y2="83.8" stroke="#00ff00" stroke-width="0.9" stroke-dasharray="1,1"/>
<rect x="274.8" y="81.3" width="5" height="5" fill="none" stroke="#00ff00" stroke-width="1"/>
<text transform="translate(299.0,88.4) scale(0.905,1)" text-anchor="start">Pade[3,5]</text>
<line x1="262.3" y1="96.8" x2="292" y2="96.8" stroke="#0000ff" stroke-width="0.9" stroke-dasharray="3,1,1,1"/>
<rect x="275.8" y="95.3" width="3" height="3" fill="none" stroke="#0000ff" stroke-width="1"/>
<text transform="translate(299.0,101.4) scale(0.905,1)" text-anchor="start">Pade[4,4]</text>
<line x1="262.3" y1="109.8" x2="292" y2="109.8" stroke="#00ffff" stroke-width="0.9" stroke-dasharray="3,1,1,1,1,1"/>
<rect x="274.8" y="107.3" width="5" height="5" fill="none" stroke="#00ffff" stroke-width="1"/>
<text transform="translate(299.0,114.4) scale(0.905,1)" text-anchor="start">Pade[5,3]</text>
<line x1="262.3" y1="122.8" x2="292" y2="122.8" stroke="#008080" stroke-width="0.9" stroke-dasharray="1.5,1"/>
<rect x="275.8" y="121.3" width="3" height="3" fill="none" stroke="#008080" stroke-width="1"/>
<text transform="translate(299.0,127.4) scale(0.905,1)" text-anchor="start">Pade[6,2]</text>
</svg>
</body></html>
